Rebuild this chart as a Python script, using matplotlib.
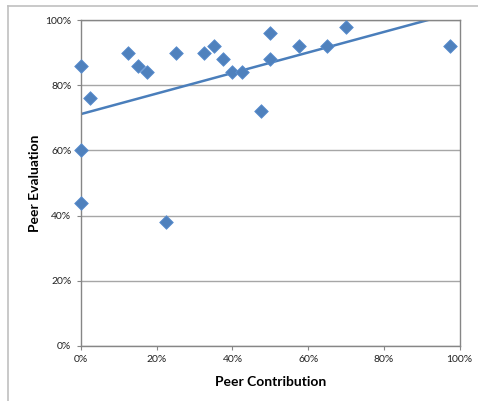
import matplotlib.pyplot as plt
import numpy as np
from matplotlib.lines import Line2D
from matplotlib.ticker import PercentFormatter

# peer contribution vs. peer evaluation, both in percent
contribution = [0, 2.5, 0, 0, 12.5, 15, 17.5, 22.5, 25, 32.5, 35, 37.5,
                40, 42.5, 47.5, 50, 50, 57.5, 65, 70, 97.5]
evaluation = [86, 76, 60, 44, 90, 86, 84, 38, 90, 90, 92, 88,
              84, 84, 72, 96, 88, 92, 92, 98, 92]
ticks = [0, 20, 40, 60, 80, 100]

BLUE = "#4f81bd"
LINE = "#4a7ebb"
FONT = ["Lato", "DejaVu Sans"]

fig = plt.figure(figsize=(4.78, 4.01), dpi=100)
ax = fig.add_axes([0.1695, 0.1379, 0.7922, 0.8115])

# chart area border (top and left edges only are in frame)
fig.add_artist(Line2D([8 / 478, 1], [1 - 6 / 401, 1 - 6 / 401],
                      transform=fig.transFigure, color="#c0c0c0", lw=1.2))
fig.add_artist(Line2D([8 / 478, 8 / 478], [0, 1 - 6 / 401],
                      transform=fig.transFigure, color="#c0c0c0", lw=1.2))

ax.scatter(contribution, evaluation, marker="D", s=48, color=BLUE,
           edgecolors="#5b8fd0", linewidths=0.6, zorder=3, clip_on=False)

# linear trendline over the data range
x = np.array(contribution, dtype=float)
slope, intercept = np.polyfit(x, evaluation, 1)
xs = np.array([x.min(), x.max()])
ax.plot(xs, slope * xs + intercept, color=LINE, lw=1.8, zorder=2)

ax.set_xlim(0, 100)
ax.set_ylim(0, 100)
ax.set_xticks(ticks)
ax.set_yticks(ticks)
ax.xaxis.set_major_formatter(PercentFormatter(decimals=0))
ax.yaxis.set_major_formatter(PercentFormatter(decimals=0))
ax.grid(axis="y", color="#a6a6a6", lw=1.0)
ax.set_axisbelow(True)

for s in ax.spines.values():
    s.set_color("#868686")
    s.set_linewidth(1.0)

ax.tick_params(axis="both", length=3, width=0.8, color="#868686",
               labelsize=7.5, labelcolor="#222222", pad=4)
for lab in ax.get_xticklabels() + ax.get_yticklabels():
    lab.set_family(FONT)

ax.set_xlabel("Peer Contribution", fontsize=10, fontweight="bold",
              family=FONT, labelpad=8)
ax.set_ylabel("Peer Evaluation", fontsize=10, fontweight="bold",
              family=FONT, labelpad=3)

fig.savefig("out.png", dpi=100)
